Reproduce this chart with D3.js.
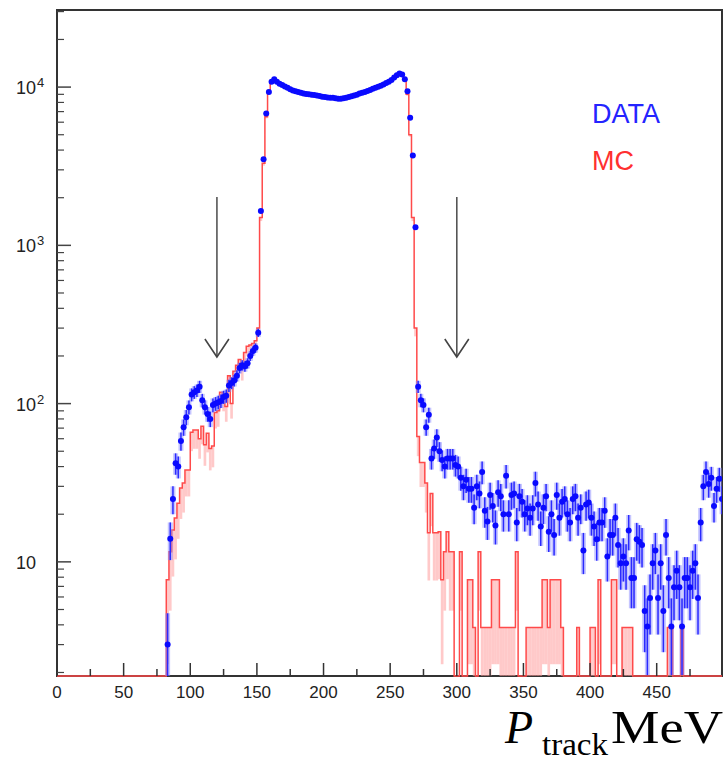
<!DOCTYPE html>
<html>
<head>
<meta charset="utf-8">
<script src="https://cdn.jsdelivr.net/npm/d3@7"></script>
<style>
  body { margin: 0; background: #fff; }
  svg { display: block; }
</style>
</head>
<body>
<svg id="chart" width="727" height="762"></svg>
<script>
// momentum histogram, 2 MeV bins starting at 82 MeV
const binWidth = 2;
const firstBin = 82;

// DATA contents per bin (83, 85, ... 499 MeV)
const dataCounts = [
	3, 14, 25, 42, 40, 58, 71, 82, 95, 114,
	118, 121, 128, 105, 95, 86, 80, 98, 100, 102,
	104, 110, 112, 130, 135, 140, 150, 168, 175, 172,
	180, 200, 215, 225, 280, 1650, 3500, 6800, 9300, 10800,
	11200, 10800, 10500, 10300, 10100, 9900, 9700, 9500, 9400, 9300,
	9200, 9100, 9050, 9000, 8950, 8900, 8850, 8800, 8700, 8650,
	8600, 8550, 8550, 8500, 8450, 8450, 8500, 8550, 8650, 8750,
	8850, 8950, 9100, 9200, 9300, 9450, 9600, 9750, 9900, 10050,
	10200, 10400, 10600, 10800, 11100, 11500, 11900, 12200, 12000, 11200,
	9400, 6400, 3700, 1300, 128, 105, 98, 71, 85, 45,
	52, 61, 50, 44, 40, 45, 45, 45, 41, 40,
	34, 30, 33, 29, 29, 22, 30, 27, 37, 21,
	18, 26.5, 22.5, 17, 27.5, 26, 20, 35, 20, 26.5,
	27, 17.7, 26, 24, 20, 21.7, 19, 21.7, 31.5, 23,
	16.7, 22, 26, 15.5, 20, 14.8, 26.5, 19, 24, 25,
	20, 17.7, 25, 26, 19, 22, 11.8, 23, 23.7, 19,
	16.7, 13.9, 17.7, 17.7, 21, 10.8, 14.8, 14.8, 19, 12.8,
	9.8, 10.8, 9.8, 15.8, 7.9, 7.9, 13.9, 13.4, 12.8, 4.9,
	3.9, 5.9, 9.8, 11.8, 5.9, 9.8, 4.9, 14.8, 7.9, 3.9,
	6.9, 8.8, 6.9, 3.9, 7.9, 7.9, 6.9, 8.8, 9.8, 5.9,
	17.7, 30, 37, 31, 34, 22.5, 29, 33.5, 25
];

// MC contents per bin (same binning, weighted events)
const mcCounts = [
	7.7, 11.6, 15.9, 18.9, 23.5, 29.3, 31.5, 38, 38, 66,
	68, 68, 60, 72, 55, 65, 52, 54, 88, 90,
	118, 110, 96, 150, 100, 160, 175, 190, 165, 210,
	230, 235, 240, 250, 300, 1500, 3300, 6500, 9500, 10900,
	11000, 10900, 10600, 10300, 10100, 9800, 9600, 9500, 9300, 9300,
	9150, 9100, 9000, 9000, 8900, 8900, 8800, 8800, 8700, 8650,
	8600, 8500, 8550, 8450, 8400, 8500, 8450, 8600, 8600, 8750,
	8800, 9000, 9050, 9200, 9350, 9400, 9600, 9800, 9850, 10100,
	10150, 10400, 10700, 10800, 11200, 11400, 11900, 12100, 11800, 11000,
	9000, 5000, 1500, 300, 62, 42.5, 42.5, 31.5, 15.3, 27,
	15.3, 15.3, 15.5, 7.7, 11.6, 15.5, 11.6, 11.6, 0, 0,
	11.6, 0, 0, 7.7, 7.7, 3.85, 0, 11.6, 3.85, 3.85,
	3.85, 3.85, 7.7, 7.7, 7.7, 3.85, 3.85, 3.85, 3.85, 3.85,
	3.85, 11.6, 0, 0, 0, 3.85, 3.85, 3.85, 3.85, 3.85,
	3.85, 7.7, 7.7, 3.85, 7.7, 7.7, 7.7, 7.7, 3.85, 0,
	0, 0, 0, 0, 3.85, 0, 0, 0, 0, 3.85,
	3.85, 0, 7.7, 0, 0, 0, 0, 7.7, 7.7, 0,
	0, 3.85, 3.85, 3.85, 3.85, 0, 0, 0, 0, 0,
	0, 0, 0, 0, 0, 0, 0, 0, 3.85, 3.85,
	0, 0, 0, 3.85, 0, 0, 0, 0, 0, 0,
	0, 0, 0, 0, 0, 0, 0, 0, 0
];
const mcWeight = 3.85;

const xTickValues = [0, 50, 100, 150, 200, 250, 300, 350, 400, 450];
const yTickValues = [10, 100, 1000, 10000];
const cutValues = [120, 300];
const legendLabels = ["DATA", "MC"];

const plot = { left: 57, right: 722, top: 10, bottom: 676 };
const svg = d3.select("#chart");

let x = d3.scaleLinear().domain([0, 499]).range([plot.left, plot.right]);
let y = d3.scaleLog().domain([1.9, 30700]).range([plot.bottom, plot.top]);
let yc = (v) => (v > y.domain()[0] ? y(v) : plot.bottom);
let mcErr = (v) => Math.sqrt(v * mcWeight);

let bins = dataCounts.map((d, i) => ({
	lo: firstBin + i * binWidth,
	hi: firstBin + (i + 1) * binWidth,
	data: d,
	mc: mcCounts[i],
}));

svg.append("clipPath")
	.attr("id", "clip")
	.append("rect")
	.attr("x", plot.left)
	.attr("y", plot.top)
	.attr("width", plot.right - plot.left)
	.attr("height", plot.bottom - plot.top + 1);

// frame
svg.append("rect")
	.attr("x", plot.left)
	.attr("y", plot.top)
	.attr("width", plot.right - plot.left)
	.attr("height", plot.bottom - plot.top)
	.attr("fill", "none")
	.attr("stroke", "#333")
	.attr("stroke-width", 2);

let g = svg.append("g").attr("clip-path", "url(#clip)");

// MC error boxes (hanging below each bin content)
g.selectAll("rect.mc-err")
	.data(bins.filter((d) => d.mc > 0))
	.join("rect")
	.classed("mc-err", true)
	.attr("x", (d) => x(d.lo))
	.attr("width", (d) => x(d.hi) - x(d.lo))
	.attr("y", (d) => y(d.mc))
	.attr("height", (d) => yc(d.mc - mcErr(d.mc)) - y(d.mc))
	.attr("fill", "#ff9c9c")
	.attr("fill-opacity", 0.55);

// MC step line
let stepPts = [{ e: 0, v: 0 }]
	.concat(bins.map((d) => ({ e: d.lo, v: d.mc })))
	.concat([{ e: bins[bins.length - 1].hi, v: 0 }]);

g.append("path")
	.datum(stepPts)
	.attr("d", d3.line().x((d) => x(d.e)).y((d) => yc(d.v)).curve(d3.curveStepAfter))
	.attr("fill", "none")
	.attr("stroke", "#ff4a4a")
	.attr("stroke-width", 1.5);

// DATA error bars and markers
let pts = bins.filter((d) => d.data > 0);

g.selectAll("rect.data-err")
	.data(pts)
	.join("rect")
	.classed("data-err", true)
	.attr("x", (d) => x((d.lo + d.hi) / 2) - 2.5)
	.attr("width", 5)
	.attr("y", (d) => y(d.data + Math.sqrt(d.data)))
	.attr("height", (d) => yc(d.data - Math.sqrt(d.data)) - y(d.data + Math.sqrt(d.data)))
	.attr("fill", "#8c8cff")
	.attr("fill-opacity", 0.5);

g.selectAll("line.data-err")
	.data(pts)
	.join("line")
	.classed("data-err", true)
	.attr("x1", (d) => x((d.lo + d.hi) / 2))
	.attr("x2", (d) => x((d.lo + d.hi) / 2))
	.attr("y1", (d) => y(d.data + Math.sqrt(d.data)))
	.attr("y2", (d) => yc(d.data - Math.sqrt(d.data)))
	.attr("stroke", "#2a2aff")
	.attr("stroke-width", 1.5);

g.selectAll("circle")
	.data(pts)
	.join("circle")
	.attr("cx", (d) => x((d.lo + d.hi) / 2))
	.attr("cy", (d) => y(d.data))
	.attr("r", 3)
	.attr("fill", "#0a0aff");

// x ticks (major every 50, minor every 25)
let xAxisG = svg.append("g").classed("axis-x", true);
xAxisG.selectAll("line")
	.data(d3.range(0, 500, 25))
	.join("line")
	.attr("x1", (d) => x(d))
	.attr("x2", (d) => x(d))
	.attr("y1", plot.bottom)
	.attr("y2", (d) => plot.bottom - (d % 50 === 0 ? 13 : 7))
	.attr("stroke", "#333")
	.attr("stroke-width", 1.5);

xAxisG.selectAll("text")
	.data(xTickValues)
	.join("text")
	.attr("x", (d) => x(d))
	.attr("y", 698)
	.attr("text-anchor", "middle")
	.attr("font-family", "Liberation Sans, Arial, sans-serif")
	.attr("font-size", 17)
	.attr("fill", "#222")
	.text((d) => d);

// y ticks (log, decades + minor)
let yMinor = [];
[1, 10, 100, 1000, 10000].forEach((dec) => {
	d3.range(2, 10).forEach((k) => {
		let v = k * dec;
		if (v > y.domain()[0] && v < y.domain()[1]) yMinor.push(v);
	});
});

let yAxisG = svg.append("g").classed("axis-y", true);
yAxisG.selectAll("line.minor")
	.data(yMinor)
	.join("line")
	.classed("minor", true)
	.attr("x1", plot.left)
	.attr("x2", plot.left + 7)
	.attr("y1", (d) => y(d))
	.attr("y2", (d) => y(d))
	.attr("stroke", "#444")
	.attr("stroke-width", 1.2);

yAxisG.selectAll("line.major")
	.data(yTickValues)
	.join("line")
	.classed("major", true)
	.attr("x1", plot.left)
	.attr("x2", plot.left + 14)
	.attr("y1", (d) => y(d))
	.attr("y2", (d) => y(d))
	.attr("stroke", "#444")
	.attr("stroke-width", 1.5);

let yLab = yAxisG.selectAll("text")
	.data(yTickValues)
	.join("text")
	.attr("x", 16)
	.attr("y", (d) => y(d) + 7)
	.attr("font-family", "Liberation Sans, Arial, sans-serif")
	.attr("font-size", 18)
	.attr("fill", "#222");
yLab.append("tspan").text("10");
yLab.filter((d) => d > 10)
	.append("tspan")
	.attr("dx", 1)
	.attr("dy", -7)
	.attr("font-size", 13)
	.text((d) => Math.round(Math.log10(d)));

// cut arrows
let arrowG = svg.append("g").classed("cuts", true);
cutValues.forEach((c) => {
	arrowG.append("line")
		.attr("x1", x(c)).attr("x2", x(c))
		.attr("y1", 197).attr("y2", 356)
		.attr("stroke", "#555").attr("stroke-width", 1.6);
	arrowG.append("path")
		.attr("d", `M${x(c) - 12},${339} L${x(c)},${357} L${x(c) + 12},${339}`)
		.attr("fill", "none")
		.attr("stroke", "#444")
		.attr("stroke-width", 1.6);
});

// legend
let legendColors = ["#2424ff", "#ff3030"];
svg.selectAll("text.legend")
	.data(legendLabels)
	.join("text")
	.classed("legend", true)
	.attr("x", 592)
	.attr("y", (d, i) => 123 + i * 47)
	.attr("font-family", "Liberation Sans, Arial, sans-serif")
	.attr("font-size", 27)
	.attr("fill", (d, i) => legendColors[i])
	.text((d) => d);

// axis title
let titleG = svg.append("g").attr("font-family", "Liberation Serif, Times New Roman, serif").attr("fill", "#000");
titleG.append("text").attr("x", 505).attr("y", 743).attr("font-size", 46).attr("font-style", "italic").text("P");
titleG.append("text").attr("x", 542).attr("y", 755).attr("font-size", 32)
	.attr("textLength", 66).attr("lengthAdjust", "spacingAndGlyphs").text("track");
titleG.append("text").attr("x", 611).attr("y", 743).attr("font-size", 46)
	.attr("textLength", 112).attr("lengthAdjust", "spacingAndGlyphs").text("MeV");
</script>
</body>
</html>
